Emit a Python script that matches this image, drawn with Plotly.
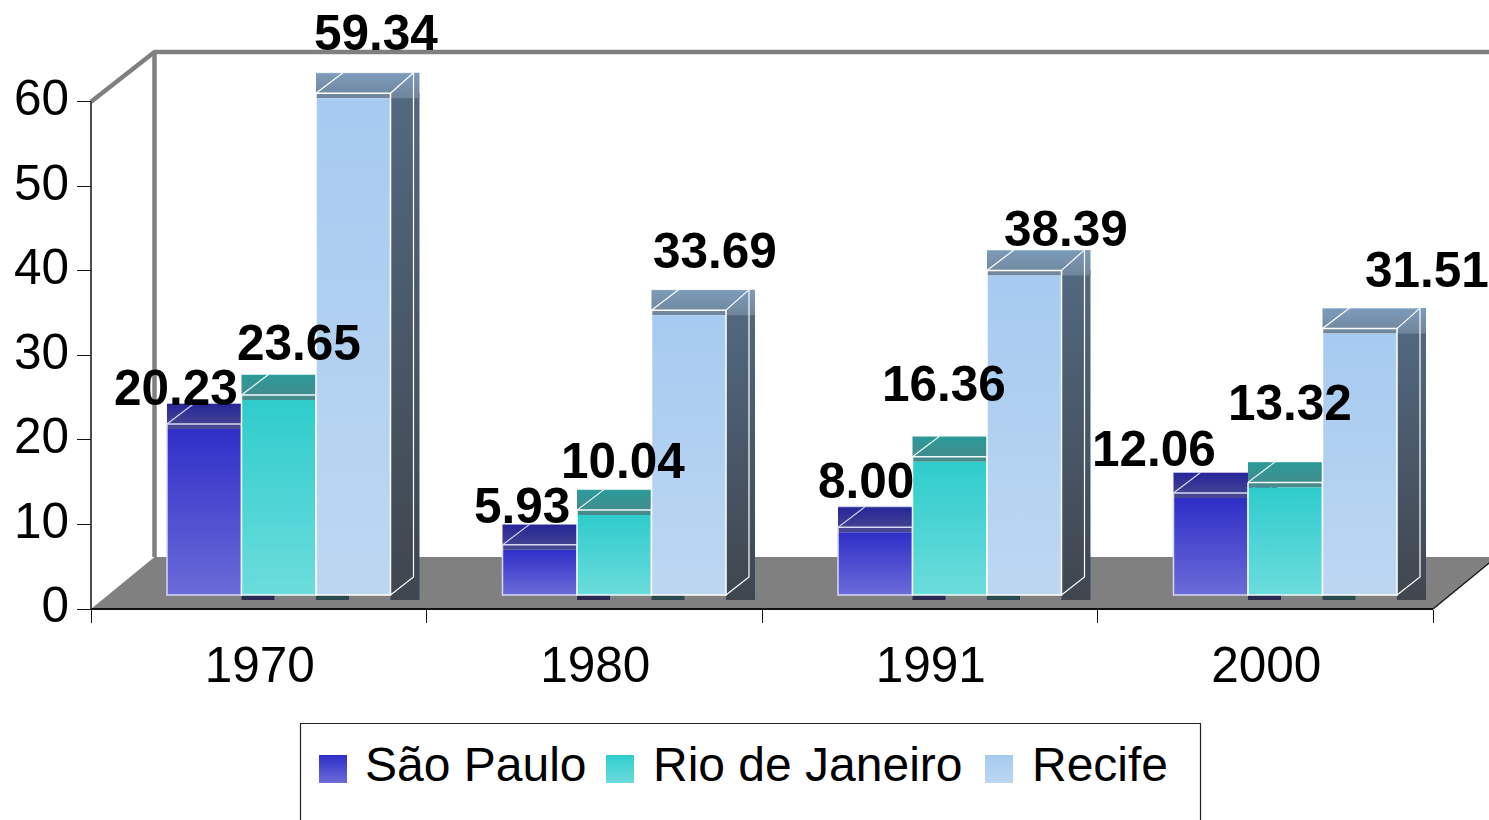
import plotly.graph_objects as go

# ---- data ----
CATEGORIES = ["1970", "1980", "1991", "2000"]
SAO_PAULO = [20.23, 5.93, 8.00, 12.06]
RIO_DE_JANEIRO = [23.65, 10.04, 16.36, 13.32]
RECIFE = [59.34, 33.69, 38.39, 31.51]
SERIES_NAMES = ["São Paulo", "Rio de Janeiro", "Recife"]
Y_TICKS = [0, 10, 20, 30, 40, 50, 60]

# ---- hand placed value labels (px shift from the front-top centre of each bar) ----
LABEL_DX = [[-28, -18, -9, -57], [20, 9, -6, 5], [23, 26, 42, 67]]
LABEL_DY = [[-36, -39, -47, -45], [-53, -50, -73, -80], [-61, -60, -42, -59]]

# ---- styles ----
W, H = 1489, 820
FONT = "Liberation Sans"
FRONT = [("#2f2fc8", "#6b6bd8"), ("#2fcccc", "#6cdcdc"), ("#a6caf0", "#bdd7f2")]
TOP = [("#25259a", "#4a4a90"), ("#2a9a9a", "#4a8a8a"), ("#7c9cbc", "#70859a")]
SIDE = [("#2a2a50", "#2a2a50"), ("#2a4a50", "#2a4a50"), ("#536880", "#3f464e")]
LINE = ["#d8d8f4", "#eefafa", "#ffffff"]

# ---- pixel geometry turned into axis units ----
X0, X1, Y0, Y60 = 91, 1433, 609, 101.7
PX = (X1 - X0) / 4          # px per category
PY = (Y0 - Y60) / 60        # px per value unit
ux = lambda p: p / PX
uy = lambda p: p / PY
L, R = -0.5, 3.5
to_x = lambda p: L + ux(p - X0)      # page px -> axis value (legend block only)
to_y = lambda p: uy(Y0 - p)

BASE = uy(Y0 - 595)
START = ux(76)
BAR_W = ux(74.5)
SIDE_W = ux(29)
STUB_W = ux(33)
DEPTH_X = ux(23)
DIAG_X = ux(27)
DEPTH_Y = uy(20.5)
LIP = uy(5)
STUB = uy(5)
BASE_DEPTH = uy(18)

fig = go.Figure()


def poly(xs, ys, colors, name):
    fig.add_trace(go.Scatter(
        x=xs + xs[:1], y=ys + ys[:1], mode="lines", line=dict(width=0),
        fill="toself",
        fillgradient=dict(type="vertical",
                          colorscale=[[0, colors[1]], [1, colors[0]]]),
        hoverinfo="skip", showlegend=False, name=name))


def solid(xs, ys, color, name):
    fig.add_trace(go.Scatter(
        x=xs + xs[:1], y=ys + ys[:1], mode="lines", line=dict(width=0),
        fill="toself", fillcolor=color, hoverinfo="skip", showlegend=False, name=name))


def wire(xs, ys, color, width, name):
    fig.add_trace(go.Scatter(
        x=xs, y=ys, mode="lines", line=dict(color=color, width=width),
        hoverinfo="skip", showlegend=False, name=name))


# ---- floor and walls ----
WALL_X = ux(63.5)
WALL_TOP = uy(Y0 - 52)
FLOOR_BACK = uy(Y0 - 557)
solid([L, L + WALL_X, R + WALL_X, R], [0, FLOOR_BACK, FLOOR_BACK, 0], "#808080", "floor")
wire([L, L + WALL_X, R + WALL_X], [60, WALL_TOP, WALL_TOP], "#808080", 4.5, "wall top")
wire([L + WALL_X, L + WALL_X], [FLOOR_BACK, WALL_TOP], "#808080", 4.5, "wall left")
wire([R, R + WALL_X], [0, FLOOR_BACK], "#1a1a1a", 1.5, "floor edge")
wire([L, R], [0, 0], "#111111", 2, "x axis line")
wire([L, L], [0, 60], "#111111", 1.5, "y axis line")

# ---- bars ----
VALUES = [SAO_PAULO, RIO_DE_JANEIRO, RECIFE]
annotations = []
for g in range(len(CATEGORIES)):
    for s, series in enumerate(VALUES):
        v = series[g]
        left = L + g + START + s * BAR_W
        right = left + BAR_W
        top = v + BASE
        n = f"{SERIES_NAMES[s]} {CATEGORIES[g]}"
        sw = SIDE_W if s == 2 else STUB_W
        poly([right, right + sw, right + sw, right],
             [top, top, BASE - STUB, BASE - STUB], SIDE[s], n + " side")
        poly([left, right + SIDE_W, right + SIDE_W, left],
             [top - LIP, top - LIP, top + DEPTH_Y, top + DEPTH_Y], TOP[s], n + " top")
        poly([left, right, right, left],
             [BASE, BASE, top - LIP, top - LIP], FRONT[s], n)
        c = LINE[s]
        wire([right, right + DEPTH_X, right + DEPTH_X, right],
             [top, top + DEPTH_Y, BASE + BASE_DEPTH, BASE], c, 1.2, n + " side edge")
        wire([left, left + DIAG_X], [top, top + DEPTH_Y], c, 1.2, n + " diag")
        wire([left, right + DEPTH_X], [top + DEPTH_Y, top + DEPTH_Y], c, 0.6, n + " back")
        wire([left, left, right, right, left], [top, BASE, BASE, top, top], c, 1.5, n + " edge")
        annotations.append(dict(
            x=(left + right) / 2, y=top, xref="x", yref="y", text=f"{v:.2f}",
            showarrow=False, xanchor="center", yanchor="middle",
            xshift=LABEL_DX[s][g], yshift=-LABEL_DY[s][g],
            font=dict(family=FONT, size=49.5, color="#000000", weight="bold")))

# ---- legend (swatches larger than plotly's own legend can draw) ----
SWATCH_X = [319, 606, 985]
TEXT_X = [363, 651, 1030]
for s, name in enumerate(SERIES_NAMES):
    x = SWATCH_X[s]
    poly([to_x(x), to_x(x + 28), to_x(x + 28), to_x(x)],
         [to_y(755), to_y(755), to_y(783), to_y(783)], FRONT[s], name + " key")
    annotations.append(dict(
        x=to_x(TEXT_X[s]), y=to_y(764.5), xref="x", yref="y", text=name, showarrow=False,
        xanchor="left", yanchor="middle",
        font=dict(family=FONT, size=48, color="#000000")))

fig.update_layout(
    width=W, height=H, autosize=False,
    margin=dict(l=0, r=0, t=0, b=0),
    paper_bgcolor="#ffffff", plot_bgcolor="rgba(0,0,0,0)",
    showlegend=False,
    font=dict(family=FONT, size=49.5, color="#000000"),
    annotations=annotations,
    shapes=[dict(type="path", xref="paper", yref="paper",
                 path=f"M {300.5/W} -0.02 L {300.5/W} {1-723.5/H} L {1200.5/W} {1-723.5/H} L {1200.5/W} -0.02",
                 line=dict(color="#222222", width=1.2))],
    xaxis=dict(domain=[0, 1], range=[to_x(0), to_x(W)], anchor="free", position=(H - Y0) / H,
               side="bottom", tickmode="array",
               tickvals=[0, 1, 2, 3], ticktext=CATEGORIES, ticks="",
               ticklabelstandoff=22, ticklabelshift=1, showgrid=False, zeroline=False, showline=False,
               minor=dict(tickmode="array", tickvals=[-0.5, 0.5, 1.5, 2.5, 3.5],
                          ticks="outside", ticklen=13, tickcolor="#111111", tickwidth=1.2),
               tickfont=dict(family=FONT, size=49.5)),
    yaxis=dict(domain=[0, 1], range=[to_y(H), to_y(0)], anchor="free", position=X0 / W,
               side="left", tickmode="array",
               tickvals=Y_TICKS, ticks="outside", ticklen=14, tickcolor="#111111",
               tickwidth=1.2, ticklabelstandoff=-2, ticklabelshift=-4, showgrid=False, zeroline=False,
               showline=False, tickfont=dict(family=FONT, size=49.5)),
)

fig.write_html("out.html", config={"displayModeBar": False},
               post_script="document.body.style.margin='0';document.documentElement.style.overflow='hidden';")
